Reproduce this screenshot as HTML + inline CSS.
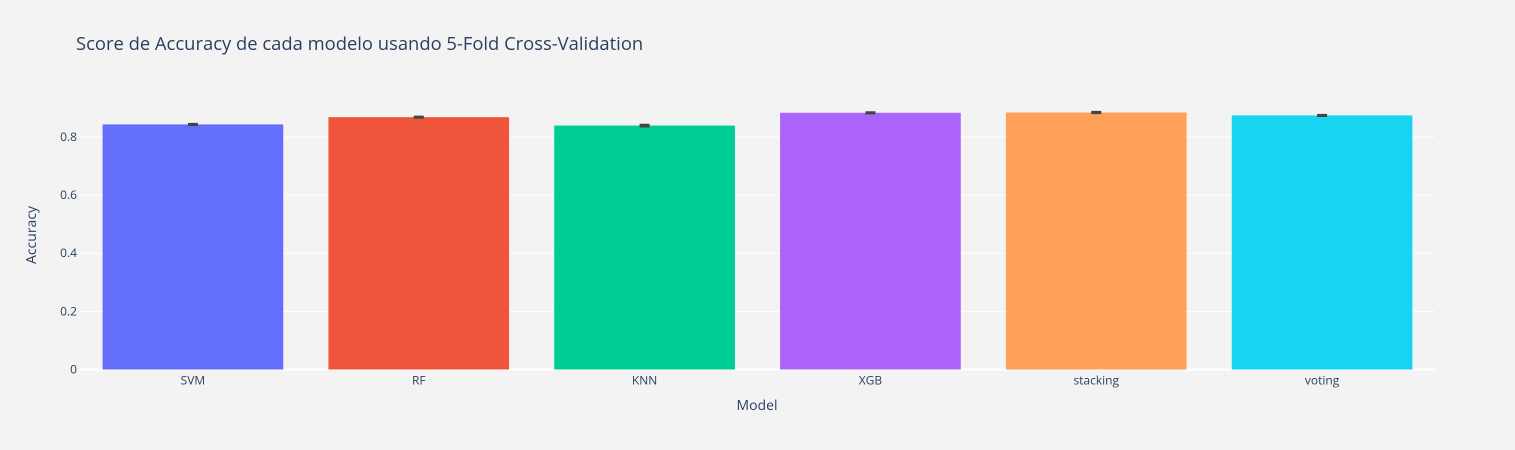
<!DOCTYPE html>
<html><head><meta charset="utf-8"><style>
body{margin:0;background:#f3f3f3;}
svg{display:block;font-family:"Open Sans","Liberation Sans",sans-serif;}
</style></head><body>
<svg id="chart" width="1515" height="450" xmlns="http://www.w3.org/2000/svg">
<rect width="1515" height="450" fill="#f3f3f3"/>
<text x="76" y="50" font-size="18.4" fill="#2a3f5f">Score de Accuracy de cada modelo usando 5-Fold Cross-Validation</text>
<g id="grid"></g><g id="bars"></g><g id="errs"></g><g id="xt"></g><g id="yt"></g>
<text x="757" y="410" font-size="14" fill="#2a3f5f" text-anchor="middle">Model</text>
<text transform="translate(36,235) rotate(-90)" font-size="14" fill="#2a3f5f" text-anchor="middle">Accuracy</text>
</svg>
<script>
const categories=["SVM","RF","KNN","XGB","stacking","voting"];
const values=[0.843,0.868,0.839,0.883,0.884,0.874];
const errors=[0.002,0.002,0.003,0.002,0.002,0.002];
const colors=["#636efa","#ef553b","#00cc96","#ab63fa","#ffa15a","#19d3f3"];
const yTicks=[0,0.2,0.4,0.6,0.8];
const yTickLabels=["0","0.2","0.4","0.6","0.8"];
const NS="http://www.w3.org/2000/svg";
const L=80,R=1435,T=100,B=369.5,yMax=0.927;
const y=v=>B-(v/yMax)*(B-T);
const band=(R-L)/categories.length;
const xc=i=>L+band*(i+0.5);
function mk(tag,attrs,parent){const e=document.createElementNS(NS,tag);for(const k in attrs)e.setAttribute(k,attrs[k]);document.getElementById(parent).appendChild(e);return e;}
yTicks.forEach((t,i)=>{
  const g=mk("line",{x1:L,x2:R,y1:y(t),y2:y(t),stroke:"#fff","stroke-width":t===0?2:1},"grid");
  
  
  const tx=mk("text",{x:L-3,y:y(t)+4,"font-size":12,fill:"#2a3f5f","text-anchor":"end"},"yt");
  tx.textContent=yTickLabels[i];
  
  
});
categories.forEach((c,i)=>{
  const w=band*0.8;
  const b=mk("rect",{x:xc(i)-w/2,y:y(values[i]),width:w,height:B-y(values[i]),fill:colors[i]},"bars");
  
  
  const hi=y(values[i]+errors[i]),lo=y(values[i]-errors[i]);
  const e=mk("path",{d:`M${xc(i)-5},${hi}H${xc(i)+5}M${xc(i)},${hi}V${lo}M${xc(i)-5},${lo}H${xc(i)+5}`,stroke:"#444","stroke-width":2,fill:"none"},"errs");
  
  
  const t=mk("text",{x:xc(i),y:B+15,"font-size":12,fill:"#2a3f5f","text-anchor":"middle"},"xt");
  t.textContent=c;
  
  
});
</script>
</body></html>
